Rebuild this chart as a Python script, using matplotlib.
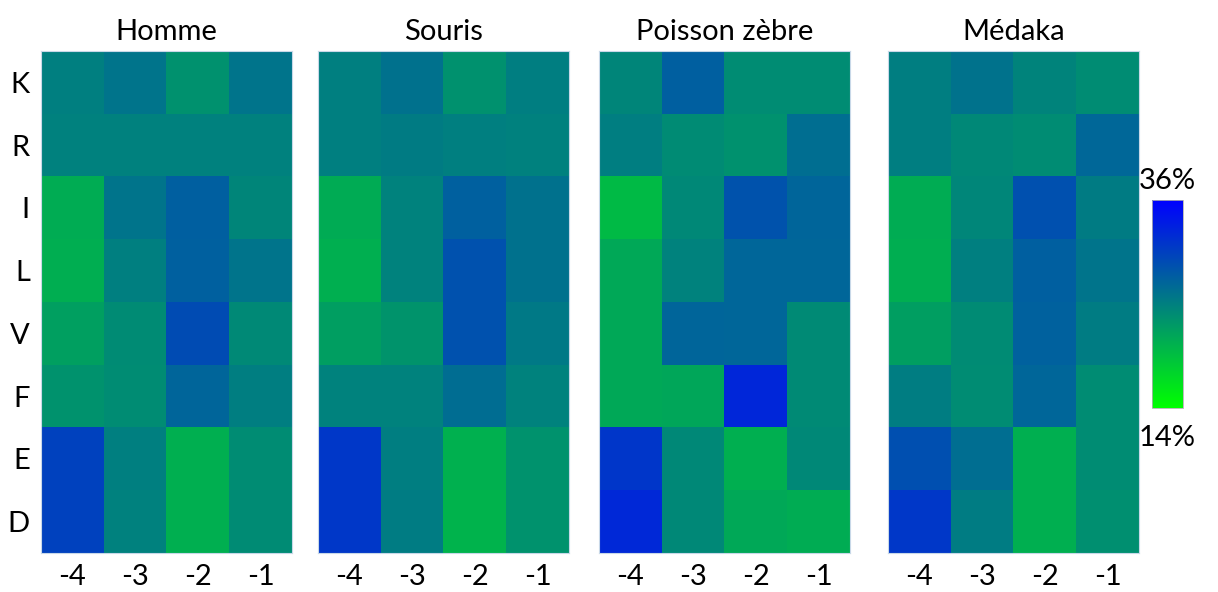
import numpy as np
import matplotlib.pyplot as plt
from matplotlib.colors import LinearSegmentedColormap

plt.rcParams['font.family'] = ['Lato', 'DejaVu Sans']

species = ["Homme", "Souris", "Poisson zèbre", "Médaka"]
residues = ["K", "R", "I", "L", "V", "F", "E", "D"]
positions = ["-4", "-3", "-2", "-1"]

# percentages, rows = residues, cols = positions -4..-1
homme = [[25.0, 26.0, 23.5, 26.0],
         [24.9, 24.9, 24.9, 24.9],
         [21.2, 26.0, 27.8, 24.5],
         [21.0, 25.0, 27.7, 26.0],
         [22.3, 24.0, 29.5, 24.2],
         [23.4, 23.9, 27.3, 25.1],
         [30.4, 25.0, 20.9, 23.9],
         [30.4, 24.9, 20.9, 24.0]]
souris = [[25.0, 26.2, 23.5, 25.1],
          [25.0, 25.4, 25.0, 24.9],
          [21.3, 24.8, 27.7, 26.2],
          [20.9, 24.8, 29.0, 26.2],
          [22.4, 23.2, 29.0, 25.6],
          [24.8, 24.8, 26.6, 24.8],
          [31.2, 25.1, 20.8, 23.4],
          [31.2, 25.3, 20.6, 23.4]]
poisson = [[24.5, 27.8, 23.9, 23.9],
           [25.1, 24.0, 23.5, 26.5],
           [20.0, 24.3, 28.8, 27.3],
           [21.5, 24.8, 27.2, 27.2],
           [21.5, 27.3, 27.2, 24.1],
           [21.5, 21.7, 32.7, 24.1],
           [31.3, 24.3, 20.9, 24.3],
           [32.5, 24.3, 21.5, 21.2]]
medaka = [[25.1, 26.1, 24.6, 23.9],
          [25.1, 24.3, 23.9, 27.1],
          [21.2, 24.4, 29.1, 25.4],
          [21.0, 25.0, 27.8, 26.0],
          [22.4, 24.0, 27.6, 25.3],
          [25.2, 23.9, 27.2, 23.9],
          [29.2, 26.5, 20.9, 23.9],
          [31.2, 25.3, 20.9, 23.7]]

data = [homme, souris, poisson, medaka]
vmin, vmax = 14, 36

cmap = LinearSegmentedColormap.from_list("gb", ["#00ff00", "#0000ff"])

fs = 21
fig = plt.figure(figsize=(12.18, 5.92), dpi=100)
lefts = [41, 318, 599, 888]
for i, (name, vals) in enumerate(zip(species, data)):
    ax = fig.add_axes([lefts[i] / 1218, 39 / 592, 251 / 1218, 502 / 592])
    im = ax.imshow(np.array(vals), cmap=cmap, vmin=vmin, vmax=vmax, aspect="auto")
    ax.set_title(name, fontsize=fs, pad=8)
    ax.set_xticks(range(4))
    ax.set_xticklabels(positions, fontsize=fs)
    ax.tick_params(length=0, pad=8)
    if i == 0:
        ax.set_yticks(range(8))
        ax.set_yticklabels(residues, fontsize=fs)
        ax.tick_params(axis="y", pad=8)
    else:
        ax.set_yticks([])
    for s in ax.spines.values():
        s.set_color("#c8d8e8")
        s.set_linewidth(0.8)

cax = fig.add_axes([1152 / 1218, 184 / 592, 31 / 1218, 208 / 592])
cb = fig.colorbar(im, cax=cax)
cb.set_ticks([])
cb.outline.set_edgecolor("#b0b0b0")
cb.outline.set_linewidth(0.6)
cax.text(0.5, 1.03, "36%", transform=cax.transAxes, ha="center", va="bottom", fontsize=fs)
cax.text(0.5, -0.08, "14%", transform=cax.transAxes, ha="center", va="top", fontsize=fs)

fig.savefig("out.png", dpi=100)
